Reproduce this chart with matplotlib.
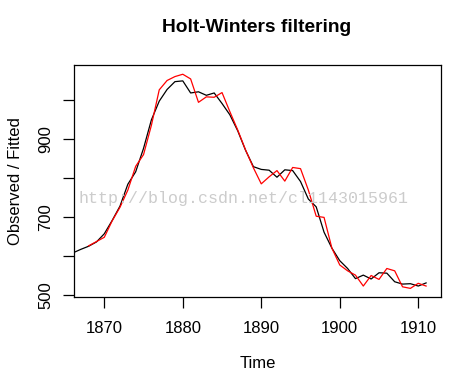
import matplotlib
matplotlib.use("Agg")
import matplotlib.pyplot as plt
import numpy as np

plt.rcParams['font.family'] = ['Liberation Sans', 'DejaVu Sans']

years = np.arange(1866, 1912)
observed = [608, 617, 625, 636, 657, 691, 728, 784, 816, 876, 949, 997, 1027, 1047,
            1049, 1018, 1021, 1012, 1018, 991, 962, 921, 871, 829, 822, 820, 802, 821,
            819, 791, 746, 726, 661, 620, 588, 568, 542, 551, 541, 557, 556, 534, 528,
            529, 523, 531]
fit_years = np.arange(1868, 1912)
fitted = [626, 637, 648, 690, 725, 769, 830, 860, 935, 1026, 1050, 1060, 1066, 1054,
          994, 1008, 1007, 1019, 970, 923, 872, 826, 785, 803, 819, 792, 827, 824,
          769, 702, 699, 620, 577, 562, 551, 523, 550, 540, 568, 562, 521, 517, 530, 523]
ytick_vals = [500, 600, 700, 800, 900, 1000]
ytick_labels = ['500', '', '700', '', '900', '']
xtick_vals = [1870, 1880, 1890, 1900, 1910]

fig = plt.figure(figsize=(4.65, 3.77), dpi=100)
ax = fig.add_axes([74/465, 1-297/377, (441-74)/465, (297-65)/377])
ax.plot(years, observed, color='black', lw=0.9)
ax.plot(fit_years, fitted, color='red', lw=0.9)
ax.set_xlim(1866.14, 1912.9)
ax.set_ylim(494.9, 1089.7)
ax.set_xticks(xtick_vals)
ax.set_xticklabels([str(v) for v in xtick_vals], fontsize=12)
ax.set_yticks(ytick_vals)
ax.set_yticklabels(ytick_labels, fontsize=12, rotation=90, va='center')
ax.tick_params(length=8, width=0.9, pad=9)
ax.tick_params(axis='y', pad=7)
for s in ax.spines.values():
    s.set_linewidth(0.9)
ax.set_xlabel('Time', fontsize=12, labelpad=15)
ax.set_ylabel('Observed / Fitted', fontsize=12, labelpad=11)
fig.text(257/465, 1-28/377, 'Holt-Winters filtering', fontsize=13.8, fontweight='bold',
         ha='center', va='center')
fig.text(243/465, 1-199/377, 'http://blog.csdn.net/cl1143015961', fontsize=12,
         family='Liberation Mono', color='#cccccc', ha='center', va='center')
fig.savefig('out.png', dpi=100)
